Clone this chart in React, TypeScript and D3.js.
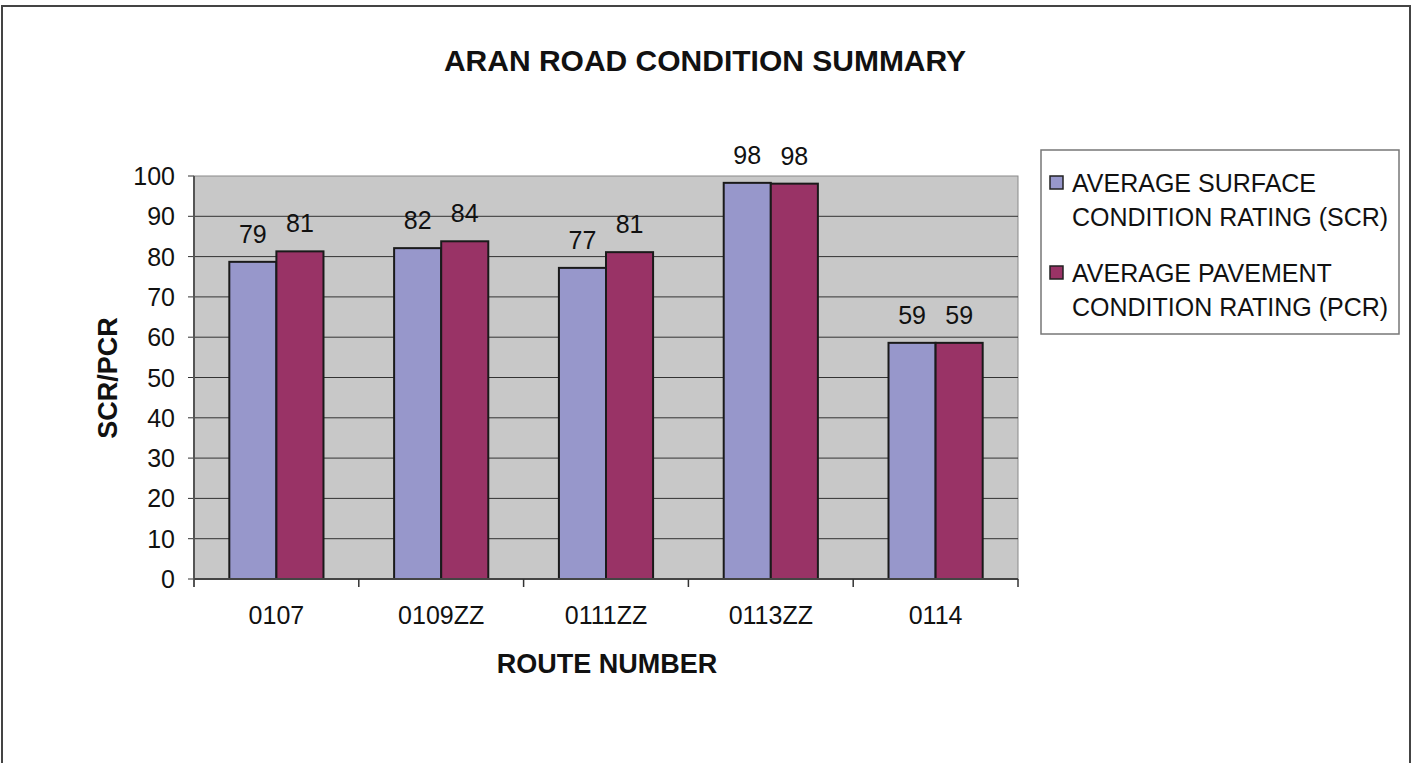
import React from "react";
import * as d3 from "d3";

const title = "ARAN ROAD CONDITION SUMMARY";
const categories = ["0107", "0109ZZ", "0111ZZ", "0113ZZ", "0114"];
const seriesNames = [
  ["AVERAGE SURFACE", "CONDITION RATING (SCR)"],
  ["AVERAGE PAVEMENT", "CONDITION RATING (PCR)"],
];
const scrValues = [78.7, 82.1, 77.2, 98.3, 58.6];
const pcrValues = [81.3, 83.8, 81.1, 98.1, 58.6];
const scrLabels = ["79", "82", "77", "98", "59"];
const pcrLabels = ["81", "84", "81", "98", "59"];
const yTicks = [0, 10, 20, 30, 40, 50, 60, 70, 80, 90, 100];
const colors = ["#9797CB", "#993366"];

const W = 1412;
const H = 763;
const plot = { left: 194, right: 1018, top: 176, bottom: 579 };
const FONT = "Liberation Sans, Arial, sans-serif";

export default function App() {
  const x0 = d3
    .scaleBand<string>()
    .domain(categories)
    .range([plot.left, plot.right])
    .paddingInner(0)
    .paddingOuter(0);
  const band = x0.bandwidth();
  const barW = band / 3.5;
  const y = d3.scaleLinear().domain([0, 100]).range([plot.bottom, plot.top]);
  const series = [
    { vals: scrValues, labels: scrLabels },
    { vals: pcrValues, labels: pcrLabels },
  ];

  return (
    <svg
      width={W}
      height={H}
      style={{ position: "absolute", left: 0, top: 0, background: "#fff" }}
      fontFamily={FONT}
    >
      {/* outer border */}
      <path d={`M2,${H + 5} V6 H1410 V${H + 5}`} fill="none" stroke="#444" strokeWidth={2} />
      <text x={705} y={71} textAnchor="middle" fontSize={30} fontWeight="bold" fill="#111">
        {title}
      </text>

      {/* plot area */}
      <rect
        x={plot.left}
        y={plot.top}
        width={plot.right - plot.left}
        height={plot.bottom - plot.top}
        fill="#C8C8C8"
        stroke="#8a8a8a"
        strokeWidth={1}
      />
      {yTicks.map((t) => (
        <g key={t}>
          {t > 0 && t < 100 && (
            <line x1={plot.left} x2={plot.right} y1={y(t)} y2={y(t)} stroke="#333" strokeWidth={1} />
          )}
          <line x1={plot.left - 6} x2={plot.left} y1={y(t)} y2={y(t)} stroke="#333" strokeWidth={1} />
          <text x={175} y={y(t) + 9} textAnchor="end" fontSize={25} fill="#111">
            {t}
          </text>
        </g>
      ))}

      {/* bars */}
      {categories.map((c, i) =>
        series.map((s, j) => {
          const bx = (x0(c) as number) + barW * 0.75 + j * barW;
          const by = y(s.vals[i]);
          return (
            <g key={c + j}>
              <rect
                x={bx}
                y={by}
                width={barW}
                height={plot.bottom - by}
                fill={colors[j]}
                stroke="#1a1a1a"
                strokeWidth={2}
              />
              <text x={bx + barW / 2} y={by - 19} textAnchor="middle" fontSize={25} fill="#111">
                {s.labels[i]}
              </text>
            </g>
          );
        })
      )}

      {/* axes */}
      <line x1={plot.left} x2={plot.left} y1={plot.top} y2={plot.bottom + 8} stroke="#555" strokeWidth={2} />
      <line x1={plot.left} x2={plot.right} y1={plot.bottom} y2={plot.bottom} stroke="#444" strokeWidth={2} />
      {categories.map((c) => (
        <line
          key={"t" + c}
          x1={(x0(c) as number) + band}
          x2={(x0(c) as number) + band}
          y1={plot.bottom}
          y2={plot.bottom + 8}
          stroke="#333"
          strokeWidth={1.5}
        />
      ))}
      {categories.map((c) => (
        <text
          key={"l" + c}
          x={(x0(c) as number) + band / 2}
          y={624}
          textAnchor="middle"
          fontSize={25}
          fill="#111"
        >
          {c}
        </text>
      ))}
      <text x={607} y={673} textAnchor="middle" fontSize={27} fontWeight="bold" fill="#111">
        ROUTE NUMBER
      </text>
      <text
        transform={`translate(117,378) rotate(-90)`}
        textAnchor="middle"
        fontSize={27}
        fontWeight="bold"
        fill="#111"
      >
        SCR/PCR
      </text>

      {/* legend */}
      <rect x={1041} y={150} width={358} height={184} fill="#fff" stroke="#777" strokeWidth={1.5} />
      {seriesNames.map((lines, j) => (
        <g key={"lg" + j}>
          <rect
            x={1050}
            y={176 + j * 90}
            width={13}
            height={13}
            fill={colors[j]}
            stroke="#222"
            strokeWidth={1.5}
          />
          {lines.map((ln, k) => (
            <text key={k} x={1072} y={192 + j * 90 + k * 34} fontSize={25} fill="#111">
              {ln}
            </text>
          ))}
        </g>
      ))}
    </svg>
  );
}
